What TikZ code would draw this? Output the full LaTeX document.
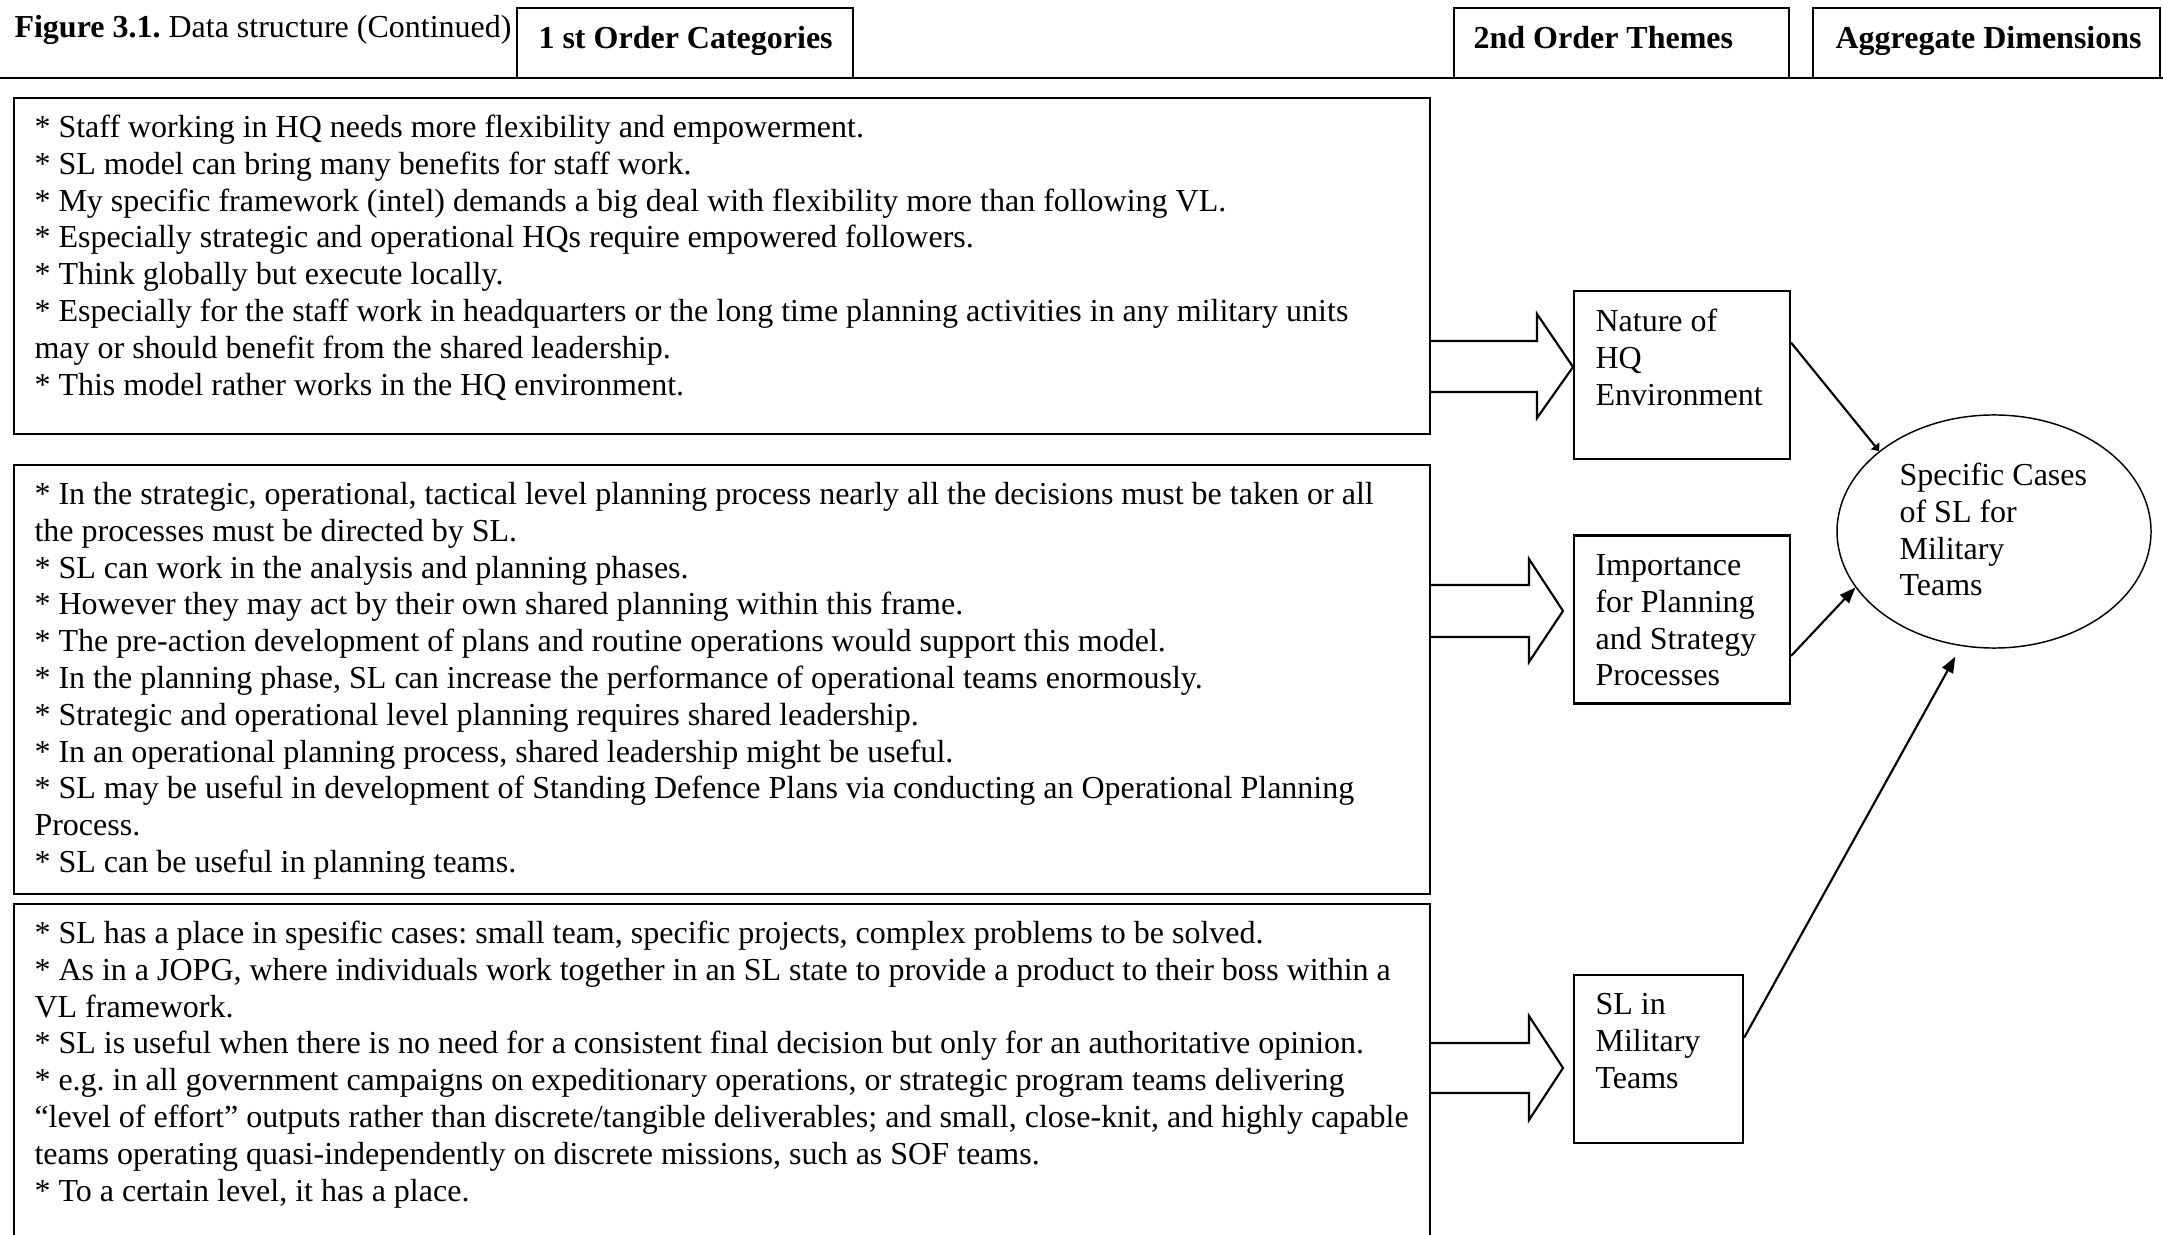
\documentclass[tikz,border=0pt]{standalone}
\usepackage{fontspec}
\setmainfont{Liberation Serif}
\usetikzlibrary{arrows.meta,shapes.geometric,calc}
\frenchspacing
\begin{document}
\begin{tikzpicture}[x=0.375pt,y=-0.375pt,
  frame/.style={draw, line width=0.8pt, rectangle, inner sep=0pt},
  txt/.style={font=\fontsize{12}{13.8}\selectfont\frenchspacing, align=left, inner sep=0pt, anchor=north west},
  hdr/.style={font=\fontsize{12}{13.8}\selectfont\bfseries, inner sep=0pt, anchor=base west},
  blockarrow/.style={draw, line width=0.8pt, line join=miter},
  conn/.style={draw, line width=0.8pt, -{Triangle[length=6pt,width=4.5pt]}}
]
\useasboundingbox (0,0) rectangle (2163,1235);
\clip (0,0) rectangle (2163,1235);

% header
\draw[line width=0.8pt] (0,78) -- (2163,78);
\node[frame, minimum width=126pt, minimum height=26.25pt] (h1) at (685,43) {};
\node[frame, minimum width=125.6pt, minimum height=26.25pt] (h2) at (1621.5,43) {};
\node[frame, minimum width=130.1pt, minimum height=26.25pt] (h3) at (1986.5,43) {};
\node[hdr] (h1t) at (538,49) {1 st Order Categories};
\node[hdr] (h2t) at (1473,49) {2nd Order Themes};
\node[hdr] (h3t) at (1835,49) {Aggregate Dimensions};
\node[font=\fontsize{12}{13.8}\selectfont\frenchspacing, inner sep=0pt, anchor=base west] (fig) at (14,38) {\textbf{Figure 3.1.}\ Data structure (Continued)};

% first order boxes
\node[frame, minimum width=531pt, minimum height=126pt] (b1) at (722,266) {};
\node[frame, minimum width=531pt, minimum height=160.875pt] (b2) at (722,679.5) {};
\node[frame, minimum width=531pt, minimum height=133.5pt] (b3) at (722,1082) {};

\node[txt] (t1) at (34,113) {\rule{0pt}{9pt}* Staff working in HQ needs more flexibility and empowerment.\\
* SL model can bring many benefits for staff work.\\
* My specific framework (intel) demands a big deal with flexibility more than following VL.\\
* Especially strategic and operational HQs require empowered followers.\\
* Think globally but execute locally.\\
* Especially for the staff work in headquarters or the long time planning activities in any military units\\
may or should benefit from the shared leadership.\\
* This model rather works in the HQ environment.};

\node[txt] (t2) at (34,480) {\rule{0pt}{9pt}* In the strategic, operational, tactical level planning process nearly all the decisions must be taken or all\\
the processes must be directed by SL.\\
* SL can work in the analysis and planning phases.\\
* However they may act by their own shared planning within this frame.\\
* The pre-action development of plans and routine operations would support this model.\\
* In the planning phase, SL can increase the performance of operational teams enormously.\\
* Strategic and operational level planning requires shared leadership.\\
* In an operational planning process, shared leadership might be useful.\\
* SL may be useful in development of Standing Defence Plans via conducting an Operational Planning\\
Process.\\
* SL can be useful in planning teams.};

\node[txt] (t3) at (34,919) {\rule{0pt}{9pt}* SL has a place in spesific cases: small team, specific projects, complex problems to be solved.\\
* As in a JOPG, where individuals work together in an SL state to provide a product to their boss within a\\
VL framework.\\
* SL is useful when there is no need for a consistent final decision but only for an authoritative opinion.\\
* e.g.\ in all government campaigns on expeditionary operations, or strategic program teams delivering\\
“level of effort” outputs rather than discrete/tangible deliverables; and small, close-knit, and highly capable\\
teams operating quasi-independently on discrete missions, such as SOF teams.\\
* To a certain level, it has a place.};

% second order boxes
\node[frame, minimum width=81pt, minimum height=63pt] (nat) at (1682,375) {};
\node[frame, minimum width=81pt, minimum height=63pt] (imp) at (1682,619.5) {};
\node[frame, minimum width=63.4pt, minimum height=63pt] (slm) at (1658.5,1059) {};
\node[txt] (natt) at (1595,307) {\rule{0pt}{9pt}Nature of\\HQ\\Environment};
\node[txt] (impt) at (1595,551) {\rule{0pt}{9pt}Importance\\for Planning\\and Strategy\\Processes};
\node[txt] (slmt) at (1595,990) {\rule{0pt}{9pt}SL in\\Military\\Teams};

% aggregate dimension
\node[draw, ellipse, line width=0.55pt, inner sep=0pt, minimum width=117.75pt, minimum height=87.4pt] (ell) at (1994,531.5) {};
\node[txt] (ellt) at (1899,461) {\rule{0pt}{9pt}Specific Cases\\of SL for\\Military\\Teams};

% block arrows
\draw[blockarrow] (1430,341) -- (1537,341) -- (1537,314) -- (1573,367) -- (1537,418) -- (1537,392) -- (1430,392);
\draw[blockarrow] (1430,585) -- (1529,585) -- (1529,559) -- (1563,611) -- (1529,662) -- (1529,637) -- (1430,637);
\draw[blockarrow] (1430,1043) -- (1529,1043) -- (1529,1016) -- (1563,1068) -- (1529,1120) -- (1529,1093) -- (1430,1093);

% connectors
\draw[line width=0.8pt, -{Triangle[length=2.5pt,width=4pt]}] ($(nat.north east)!0.31!(nat.south east)$) -- (ell.145.7);
\draw[conn] ($(imp.north east)!0.714!(imp.south east)$) -- (ell.202);
\draw[conn, shorten >=4.5pt] ($(slm.north east)!0.375!(slm.south east)$) -- (ell.254);
\end{tikzpicture}
\end{document}
